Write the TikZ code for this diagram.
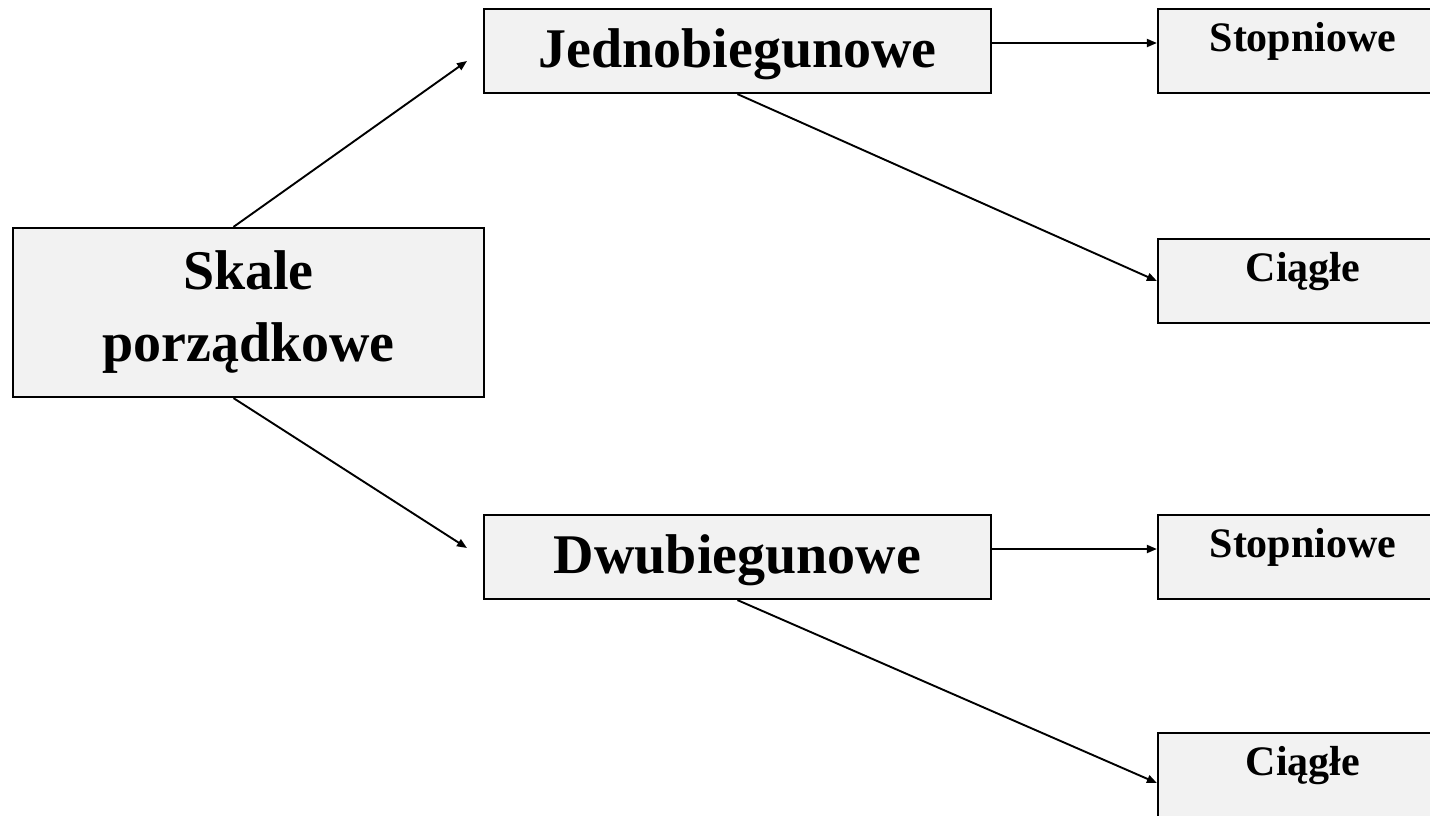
\documentclass[tikz,border=0pt]{standalone}
\usepackage{fontspec}
\setmainfont{Liberation Serif}
\usetikzlibrary{arrows.meta}
\definecolor{boxfill}{RGB}{242,242,242}

\begin{document}
\begin{tikzpicture}[x=0.5pt, y=-0.5pt,
    rootbox/.style={draw, line width=1.1pt, fill=boxfill, inner sep=0pt, align=center,
        minimum width=235.5pt, minimum height=84.5pt, font=\fontsize{28}{36}\selectfont\bfseries},
    bigbox/.style={draw, line width=1.1pt, fill=boxfill, inner sep=0pt, minimum width=253.5pt,
        text height=29pt, text depth=13pt, font=\fontsize{28}{34}\selectfont\bfseries},
    smallbox/.style={draw, line width=1.1pt, fill=boxfill, inner sep=0pt, minimum width=145pt,
        text height=21pt, text depth=21pt, font=\fontsize{21}{25}\selectfont\bfseries},
    link/.style={line width=0.95pt, -{Triangle[length=5pt, width=4pt]}}]
    \useasboundingbox (0,0) rectangle (1430,815);
    \clip (0,0) rectangle (1430,815);
    % left box
    \node[rootbox] (skale) at (248.5,312.5) {Skale\\porządkowe};
    % middle boxes
    \node[bigbox] (jedno) at (737.5,51) {Jednobiegunowe};
    \node[bigbox] (dwu) at (737.5,557) {Dwubiegunowe};
    % right boxes
    \node[smallbox] (stop1) at (1303,51) {Stopniowe};
    \node[smallbox] (ciag1) at (1303,281) {Ciągłe};
    \node[smallbox] (stop2) at (1303,557) {Stopniowe};
    \node[smallbox] (ciag2) at (1303,775) {Ciągłe};
    % arrow tips in front of the middle boxes
    \coordinate (jtip) at (467,61);
    \coordinate (dtip) at (467,548);
    % arrows
    \draw[link] ([xshift=-7.5pt]skale.north) -- (jtip);
    \draw[link] ([xshift=-7.5pt]skale.south) -- (dtip);
    \draw[link] ([yshift=4pt]jedno.east) -- ([yshift=4pt]stop1.west);
    \draw[link] (jedno.south) -- (ciag1.west);
    \draw[link] ([yshift=4pt]dwu.east) -- ([yshift=4pt]stop2.west);
    \draw[link] (dwu.south) -- ([yshift=-4pt]ciag2.west);
\end{tikzpicture}
\end{document}
